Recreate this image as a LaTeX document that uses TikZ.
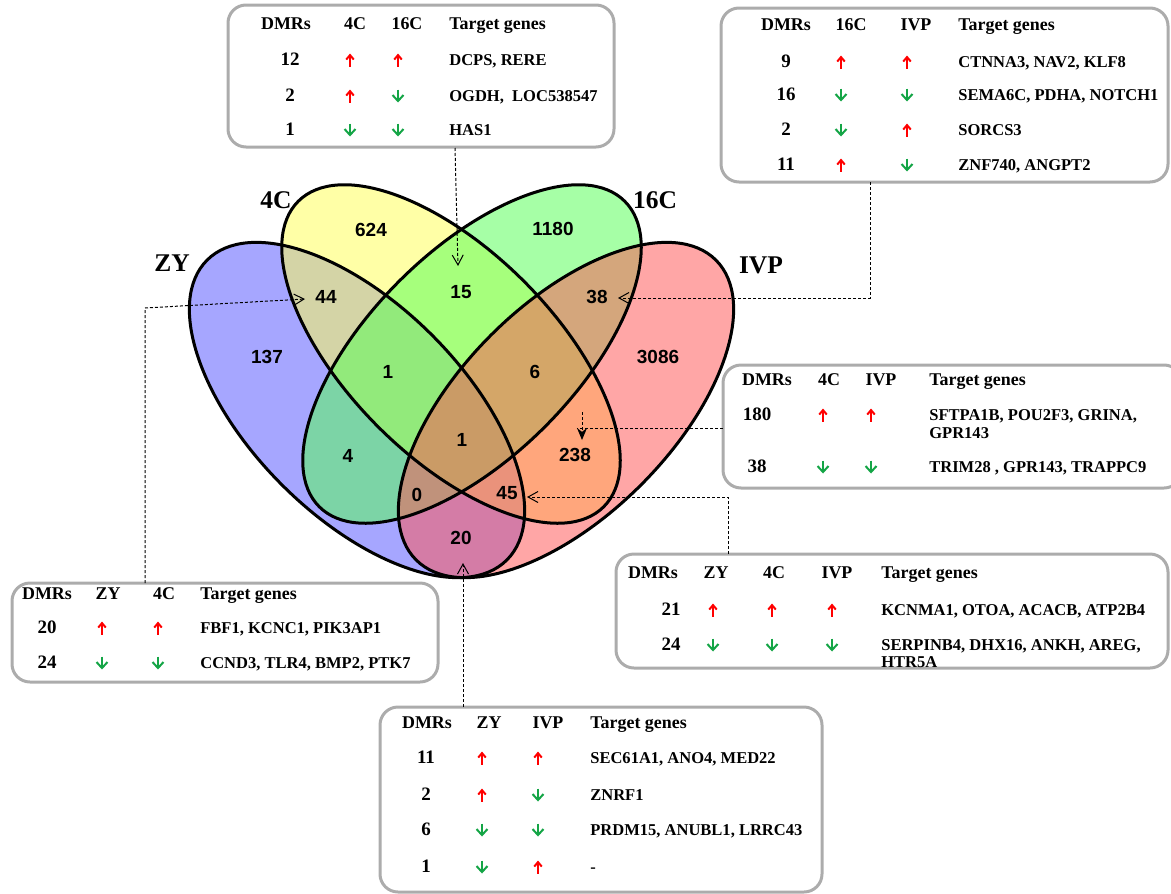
\documentclass[tikz,border=0pt]{standalone}
\usepackage{fontspec}
\setmainfont{Liberation Serif}
\newfontfamily\vennsans{Liberation Sans}
\usetikzlibrary{arrows.meta}

\definecolor{zyblue}{RGB}{85,85,255}
\definecolor{fourcyellow}{RGB}{255,255,85}
\definecolor{sixteencgreen}{RGB}{85,255,85}
\definecolor{ivpred}{RGB}{255,85,85}
\definecolor{boxgray}{RGB}{172,172,172}
\definecolor{upred}{RGB}{255,0,0}
\definecolor{dngreen}{RGB}{20,165,70}

% change markers: column x, row y
\newcommand{\uparr}[2]{\draw[uparrow] (#1,#2+6.5) -- (#1,#2-6.5);}
\newcommand{\dnarr}[2]{\draw[dnarrow] (#1,#2-6.5) -- (#1,#2+6.5);}

\tikzset{
  set/.style={fill opacity=0.52},
  outline/.style={line width=0.6mm},
  setname/.style={font=\bfseries\fontsize{14.5}{16}\selectfont, inner sep=0, text height=0.66em, text depth=0pt},
  count/.style={font=\vennsans\bfseries\fontsize{10.8}{12}\selectfont, inner sep=0, text height=0.72em, text depth=0pt},
  tabbox/.style={draw=boxgray, line width=0.6mm, rounded corners=3.6mm, fill=white},
  hdr/.style={font=\bfseries\fontsize{10.2}{12}\selectfont, inner sep=0, text height=0.66em, text depth=0pt},
  num/.style={font=\bfseries\fontsize{10.8}{12}\selectfont, inner sep=0, text height=0.66em, text depth=0pt},
  gene/.style={font=\bfseries\fontsize{9.4}{11}\selectfont, inner sep=0, text height=0.66em, text depth=0pt, anchor=west},
  uparrow/.style={draw=upred, line width=0.4mm, -{Straight Barb[length=0.9mm, width=1.5mm]}},
  dnarrow/.style={draw=dngreen, line width=0.4mm, -{Straight Barb[length=1.2mm, width=2.2mm]}},
  lead/.style={line width=0.2mm, dash pattern=on 0.6mm off 0.4mm},
  leadtip/.style={-{Straight Barb[length=2mm, width=2.2mm]}},
}

\begin{document}
\begin{tikzpicture}[x=0.2mm, y=-0.2mm]

  \useasboundingbox (0,0) rectangle (1171,893);

  % sets
  \fill[zyblue, set, rotate around={-45:(357,410)}] (357,410) ellipse [x radius=212, y radius=106];
  \fill[fourcyellow, set, rotate around={-45:(451,354)}] (451,354) ellipse [x radius=216, y radius=103];
  \fill[sixteencgreen, set, rotate around={45:(472,354)}] (472,354) ellipse [x radius=216, y radius=103];
  \fill[ivpred, set, rotate around={45:(566,410)}] (566,410) ellipse [x radius=212, y radius=106];

  \draw[outline, rotate around={-45:(357,410)}] (357,410) ellipse [x radius=212, y radius=106];
  \draw[outline, rotate around={-45:(451,354)}] (451,354) ellipse [x radius=216, y radius=103];
  \draw[outline, rotate around={45:(472,354)}] (472,354) ellipse [x radius=216, y radius=103];
  \draw[outline, rotate around={45:(566,410)}] (566,410) ellipse [x radius=212, y radius=106];

  \node[setname] (zy) at (172,266) {ZY};
  \node[setname] (c4) at (276,203) {4C};
  \node[setname] (c16) at (655,203) {16C};
  \node[setname] (ivp) at (761,268) {IVP};

  % region counts
  \node[count] (n624) at (371,230) {624};
  \node[count] (n1180) at (553,229) {1180};
  \node[count] (n44) at (326,297) {44};
  \node[count] (n15) at (461,292) {15};
  \node[count] (n38) at (597,297) {38};
  \node[count] (n137) at (267,357) {137};
  \node[count] (n3086) at (658,357) {3086};
  \node[count] (n1a) at (388,372) {1};
  \node[count] (n6) at (535,372) {6};
  \node[count] (n1b) at (462,440) {1};
  \node[count] (n4) at (348,456) {4};
  \node[count] (n238) at (575,455) {238};
  \node[count] (n0) at (417,495) {0};
  \node[count] (n45) at (507,493) {45};
  \node[count] (n20) at (461,538) {20};

  % table 4C / 16C
  \draw[tabbox] (228,5) rectangle (614,147);
  \node[hdr] (ah1) at (286,24) {DMRs};
  \node[hdr] (ah2) at (355,24) {4C};
  \node[hdr] (ah3) at (407,24) {16C};
  \node[hdr, anchor=west] (ah4) at (449,24) {Target genes};
  \foreach \y/\n/\p/\q/\g [count=\i] in {60/12/\uparr/\uparr/{DCPS, RERE}, 96/2/\uparr/\dnarr/{OGDH,\ \ LOC538547}, 130/1/\dnarr/\dnarr/{HAS1}} {
    \node[num] (an\i) at (290,\y) {\n};
    \p{350}{\y}
    \q{398}{\y}
    \node[gene] (ag\i) at (449,\y) {\g};
  }

  % table 16C / IVP
  \draw[tabbox] (721,8) rectangle (1168,182);
  \node[hdr] (bh1) at (786,25) {DMRs};
  \node[hdr] (bh2) at (851,25) {16C};
  \node[hdr] (bh3) at (916,25) {IVP};
  \node[hdr, anchor=west] (bh4) at (958,25) {Target genes};
  \foreach \y/\n/\p/\q/\g [count=\i] in {62/9/\uparr/\uparr/{CTNNA3, NAV2, KLF8}, 95/16/\dnarr/\dnarr/{SEMA6C, PDHA, NOTCH1}, 130/2/\dnarr/\uparr/{SORCS3}, 165/11/\uparr/\dnarr/{ZNF740, ANGPT2}} {
    \node[num] (bn\i) at (786,\y) {\n};
    \p{841}{\y}
    \q{907}{\y}
    \node[gene] (bg\i) at (958,\y) {\g};
  }

  % table 4C / IVP
  \draw[tabbox] (723,365) rectangle (1182,488);
  \node[hdr] (ch1) at (767,380) {DMRs};
  \node[hdr] (ch2) at (829,380) {4C};
  \node[hdr] (ch3) at (881,380) {IVP};
  \node[hdr, anchor=west] (ch4) at (929,380) {Target genes};
  \node[num] (cn1) at (757,415) {180};
  \uparr{823}{415}
  \uparr{871}{415}
  \node[gene] (cg1) at (929,415) {SFTPA1B, POU2F3, GRINA,};
  \node[gene] (cg1b) at (929,433) {GPR143};
  \node[num] (cn2) at (757,467) {38};
  \dnarr{823}{467}
  \dnarr{871}{467}
  \node[gene] (cg2) at (929,467) {TRIM28 , GPR143, TRAPPC9};

  % table ZY / 4C / IVP
  \draw[tabbox] (616,554) rectangle (1168,668);
  \node[hdr] (dh1) at (653,573) {DMRs};
  \node[hdr] (dh2) at (716,573) {ZY};
  \node[hdr] (dh3) at (774,573) {4C};
  \node[hdr] (dh4) at (837,573) {IVP};
  \node[hdr, anchor=west] (dh5) at (881,573) {Target genes};
  \node[num] (dn1) at (671,610) {21};
  \uparr{713}{610}
  \uparr{772}{610}
  \uparr{832}{610}
  \node[gene] (dg1) at (881,610) {KCNMA1, OTOA, ACACB, ATP2B4};
  \node[num] (dn2) at (671,645) {24};
  \dnarr{713}{645}
  \dnarr{772}{645}
  \dnarr{832}{645}
  \node[gene] (dg2) at (881,645) {SERPINB4, DHX16, ANKH, AREG,};
  \node[gene] (dg2b) at (881,662) {HTR5A};

  % table ZY / 4C
  \draw[tabbox] (12,583) rectangle (438,682);
  \node[hdr] (eh1) at (47,594) {DMRs};
  \node[hdr] (eh2) at (108,594) {ZY};
  \node[hdr] (eh3) at (164,594) {4C};
  \node[hdr, anchor=west] (eh4) at (200,594) {Target genes};
  \foreach \y/\n/\p/\q/\g [count=\i] in {628/20/\uparr/\uparr/{FBF1, KCNC1, PIK3AP1}, 663/24/\dnarr/\dnarr/{CCND3, TLR4, BMP2, PTK7}} {
    \node[num] (en\i) at (47,\y) {\n};
    \p{102}{\y}
    \q{158}{\y}
    \node[gene] (eg\i) at (200,\y) {\g};
  }

  % table ZY / IVP
  \draw[tabbox] (380,707) rectangle (822,892);
  \node[hdr] (fh1) at (427,723) {DMRs};
  \node[hdr] (fh2) at (489,723) {ZY};
  \node[hdr] (fh3) at (548,723) {IVP};
  \node[hdr, anchor=west] (fh4) at (590,723) {Target genes};
  \foreach \y/\n/\p/\q/\g [count=\i] in {758/11/\uparr/\uparr/{SEC61A1, ANO4, MED22}, 795/2/\uparr/\dnarr/{ZNRF1}, 830/6/\dnarr/\dnarr/{PRDM15, ANUBL1, LRRC43}, 867/1/\dnarr/\uparr/{-}} {
    \node[num] (fn\i) at (426,\y) {\n};
    \p{482}{\y}
    \q{538}{\y}
    \node[gene] (fg\i) at (590,\y) {\g};
  }

  % leader lines
  \coordinate (la) at (455,148);
  \coordinate (la') at (458,266);
  \coordinate (lb) at (870,182);
  \coordinate (lb') at (618,298);
  \coordinate (lc) at (723,428);
  \coordinate (lc') at (577,428);
  \coordinate (lcu) at (582,412);
  \coordinate (lcd) at (582,440);
  \coordinate (ld) at (728,554);
  \coordinate (ld') at (527,497);
  \coordinate (le) at (145,583);
  \coordinate (le') at (305,299);
  \coordinate (lf) at (463,707);
  \coordinate (lf') at (463,563);

  \draw[lead, leadtip] (la) -- (la');
  \draw[lead, leadtip] (lb) |- (lb');
  \draw[lead] (lc) -- (lc');
  \draw[lead, -{Stealth[length=2.4mm, width=2mm]}] (lcu) -- (lcd);
  \draw[lead, leadtip] (ld) |- (ld');
  \draw[lead, leadtip] (le) -- (145,308) -- (le');
  \draw[lead, leadtip] (lf) -- (lf');

\end{tikzpicture}
\end{document}
